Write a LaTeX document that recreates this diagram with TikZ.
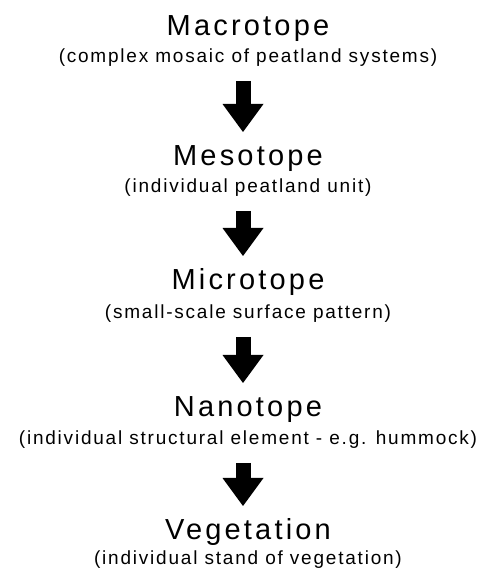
\documentclass[tikz,border=0pt]{standalone}
\usepackage{fontspec}
\setmainfont{Liberation Sans}
\newfontfamily\levelfont[LetterSpace=11]{Liberation Sans}
\newfontfamily\notefont[LetterSpace=9.4]{Liberation Sans}
\usetikzlibrary{arrows.meta, positioning}

\begin{document}
\begin{tikzpicture}[
    x=1pt, y=1pt,
    level/.style={font=\levelfont\fontsize{29}{29}\selectfont, anchor=base, inner sep=0pt},
    note/.style={font=\notefont\fontsize{19}{19}\selectfont, anchor=base, inner sep=0pt},
    down/.style={-{Triangle[width=41pt, length=28pt, line width=0pt]}, line width=15pt, black},
]
\useasboundingbox (0,0) rectangle (481,576);

% --- niveles ---
\node[level] (macro) at (248,540) {Macrotope};
\node[note] (macroN) at (248,513) {(complex mosaic of peatland systems)};

\node[level] (meso) at (248,410) {Mesotope};
\node[note] (mesoN) at (248,383) {(individual peatland unit)};

\node[level] (micro) at (248,286) {Microtope};
\node[note] (microN) at (248,257) {(small-scale surface pattern)};

\node[level] (nano) at (248,159) {Nanotope};
\node[note] (nanoN) at (248,131) {(individual structural element - e.g. hummock)};

\node[level] (veg) at (248,36) {Vegetation};
\node[note] (vegN) at (248,12) {(individual stand of vegetation)};

% flechas entre niveles
\draw[down] ([xshift=-5,yshift=-18]macroN.base) -- ([xshift=-5,yshift=34]meso.base);
\draw[down] ([xshift=-5,yshift=-18]mesoN.base) -- ([xshift=-5,yshift=34]micro.base);
\draw[down] ([xshift=-5,yshift=-18]microN.base) -- ([xshift=-5,yshift=34]nano.base);
\draw[down] ([xshift=-5,yshift=-18]nanoN.base) -- ([xshift=-5,yshift=34]veg.base);

\end{tikzpicture}
\end{document}
